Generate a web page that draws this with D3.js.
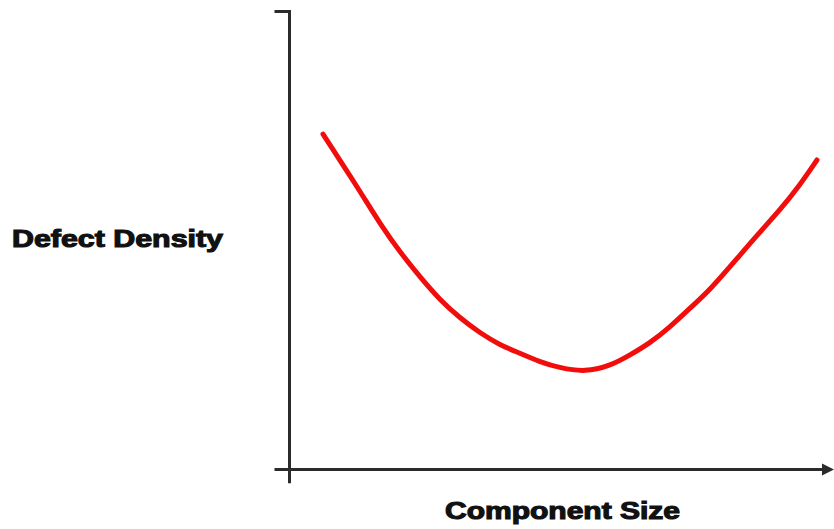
<!DOCTYPE html>
<html>
<head>
<meta charset="utf-8">
<script src="https://cdn.jsdelivr.net/npm/d3@7"></script>
<style>
	body { margin: 0; background: #fff; }
	svg { display: block; }
</style>
</head>
<body>
<svg id="chart"></svg>
<script>
// curve (component size vs defect density, 0..100 both ways)
const sizes = [ 6.24, 12.77, 17.24, 20.60, 24.32, 28.05, 31.78, 35.51, 39.24, 42.40, 46.69, 50.42, 55.08, 59.74, 63.47, 67.19, 70.92, 74.65, 78.38, 83.97, 87.70, 91.43, 95.15, 98.32 ] ;
const densities = [ 73.25, 61.46, 52.95, 47.49, 42.03, 37.01, 33.08, 29.80, 27.18, 25.66, 23.47, 22.16, 21.29, 22.60, 25.00, 27.62, 31.11, 35.26, 39.19, 46.83, 51.86, 56.66, 62.12, 67.58 ] ;
const xLabel = 'Component Size' ;
const yLabel = 'Defect Density' ;

const geom = {
	width: 834,
	height: 529,
	margins: { left: 289.5, right: 8, top: 11.5, bottom: 59.5 }
} ;

const scales = {
	x: d3.scaleLinear()
		.domain( [0, 100] )
		.range( [ geom.margins.left, geom.width - geom.margins.right ] ),
	y: d3.scaleLinear()
		.domain( [0, 100] )
		.range( [ geom.height - geom.margins.bottom, geom.margins.top ] )
} ;

const svg = d3.select( '#chart' )
	.attr( 'width', geom.width )
	.attr( 'height', geom.height ) ;

const axisColour = '#2b2b2b' ;

// y axis, running a little past the x axis
svg.append( 'line' )
	.attr( 'x1', scales.x(0) ).attr( 'x2', scales.x(0) )
	.attr( 'y1', scales.y(-3) ).attr( 'y2', scales.y(100) - 1.5 )
	.attr( 'stroke', axisColour )
	.attr( 'stroke-width', 3 ) ;

// small tick at the top
svg.append( 'line' )
	.attr( 'x1', scales.x(0) - 15 ).attr( 'x2', scales.x(0) )
	.attr( 'y1', scales.y(100) ).attr( 'y2', scales.y(100) )
	.attr( 'stroke', axisColour )
	.attr( 'stroke-width', 3 ) ;

// x axis with arrow
svg.append( 'line' )
	.attr( 'x1', scales.x(0) - 15 ).attr( 'x2', scales.x(100) - 2 )
	.attr( 'y1', scales.y(0) ).attr( 'y2', scales.y(0) )
	.attr( 'stroke', axisColour )
	.attr( 'stroke-width', 3 ) ;

const ax = scales.x(100) + 8, ay = scales.y(0) ;
svg.append( 'path' )
	.attr( 'd', `M${ax - 12},${ay - 6}L${ax},${ay}L${ax - 12},${ay + 6}Z` )
	.attr( 'fill', axisColour ) ;

// the curve
const pts = sizes.map( (s, i) => [ s, densities[i] ] ) ;
const line = d3.line()
	.x( d => scales.x(d[0]) )
	.y( d => scales.y(d[1]) )
	.curve( d3.curveBasis ) ;

svg.append( 'path' )
	.datum( pts )
	.attr( 'd', line )
	.attr( 'fill', 'none' )
	.attr( 'stroke', '#f20d0d' )
	.attr( 'stroke-width', 5 )
	.attr( 'stroke-linecap', 'round' )
	.attr( 'stroke-linejoin', 'round' ) ;

// labels, wide and heavy
svg.append( 'text' )
	.attr( 'x', 12 )
	.attr( 'y', 246.5 )
	.attr( 'textLength', 211 )
	.attr( 'lengthAdjust', 'spacingAndGlyphs' )
	.attr( 'font-family', 'Liberation Sans, Arial, sans-serif' )
	.attr( 'font-weight', 'bold' )
	.attr( 'font-size', '23px' )
	.attr( 'fill', '#111' )
	.attr( 'stroke', '#111' )
	.attr( 'stroke-width', 1.1 )
	.text( yLabel ) ;

svg.append( 'text' )
	.attr( 'x', 445 )
	.attr( 'y', 518.5 )
	.attr( 'textLength', 235 )
	.attr( 'lengthAdjust', 'spacingAndGlyphs' )
	.attr( 'font-family', 'Liberation Sans, Arial, sans-serif' )
	.attr( 'font-weight', 'bold' )
	.attr( 'font-size', '23px' )
	.attr( 'fill', '#111' )
	.attr( 'stroke', '#111' )
	.attr( 'stroke-width', 1.1 )
	.text( xLabel ) ;
</script>
</body>
</html>
